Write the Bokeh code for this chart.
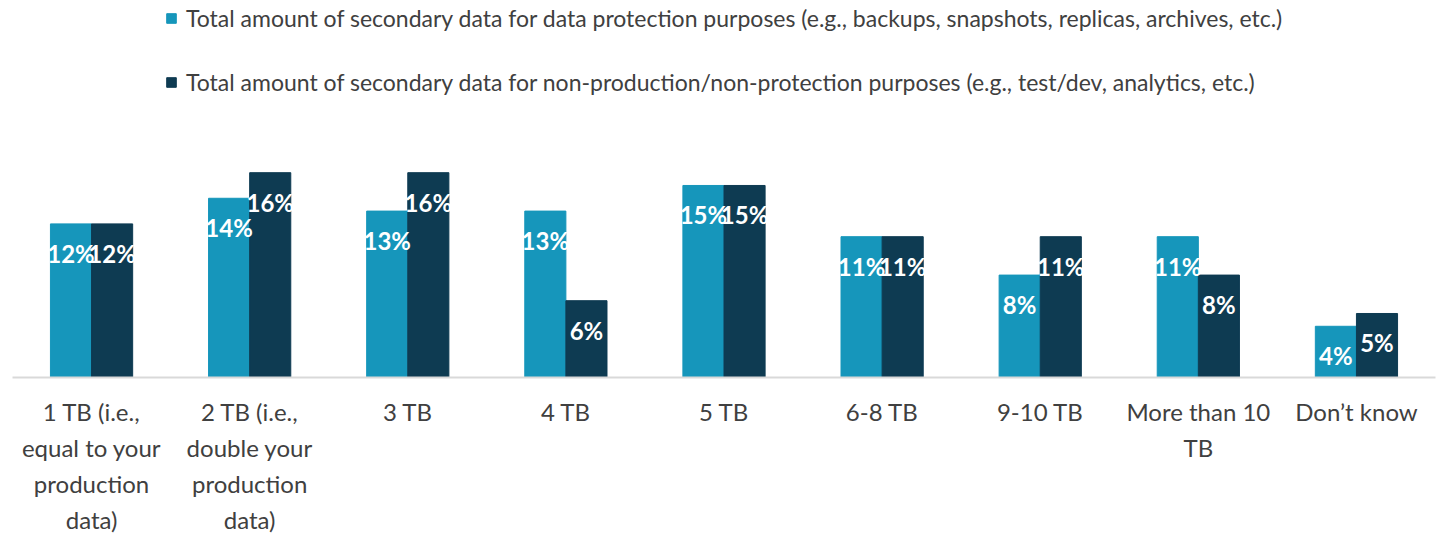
from bokeh.plotting import figure
from bokeh.models import ColumnDataSource, FactorRange, Range1d, Legend, LegendItem
from bokeh.transform import dodge
from bokeh.core.properties import value
from bokeh.embed import file_html
from bokeh.resources import INLINE

categories = [
    "1 TB (i.e.,\nequal to your\nproduction\ndata)",
    "2 TB (i.e.,\ndouble your\nproduction\ndata)",
    "3 TB", "4 TB", "5 TB", "6-8 TB", "9-10 TB",
    "More than 10\nTB", "Don’t know",
]
protection = [12, 14, 13, 13, 15, 11, 8, 11, 4]
non_production = [12, 16, 16, 6, 15, 11, 11, 8, 5]
series_names = [
    "Total amount of secondary data for data protection purposes (e.g., backups, snapshots, replicas, archives, etc.)",
    "Total amount of secondary data for non-production/non-protection purposes (e.g., test/dev, analytics, etc.)",
]
colors = ["#1696bb", "#0e3b52"]

src = ColumnDataSource(dict(
    cat=categories,
    a=protection,
    b=non_production,
    al=[f"{v}%" for v in protection],
    bl=[f"{v}%" for v in non_production],
))

FONT = "Lato"

p = figure(width=1439, height=537, x_range=FactorRange(*categories), y_range=Range1d(0, 29.45),
           output_backend="svg", toolbar_location=None,
           min_border_left=12, min_border_right=4, min_border_top=0, min_border_bottom=158)
p.outline_line_color = None
p.xgrid.visible = False
p.ygrid.visible = False
p.yaxis.visible = False

w = 0.26
r1 = p.vbar(x=dodge("cat", -w / 2, range=p.x_range), top="a", width=w, source=src,
            fill_color=colors[0], line_color=colors[0])
r2 = p.vbar(x=dodge("cat", w / 2, range=p.x_range), top="b", width=w, source=src,
            fill_color=colors[1], line_color=colors[1])

for col, lab, off in (("a", "al", -w / 2), ("b", "bl", w / 2)):
    p.text(x=dodge("cat", off, range=p.x_range), y=col, text=lab, source=src,
           text_align="center", text_baseline="top", y_offset=15,
           text_color="white", text_font=value(FONT), text_font_style="bold",
           text_font_size="24px")

ax = p.xaxis[0]
ax.axis_line_color = "#d9d9d9"
ax.axis_line_width = 2
ax.major_tick_line_color = None
ax.minor_tick_line_color = None
ax.major_tick_out = 0
ax.major_label_text_font = FONT
ax.major_label_text_font_size = "24px"
ax.major_label_text_color = "#404040"
ax.major_label_text_line_height = 1.25
ax.major_label_standoff = 19
ax.major_label_orientation = "horizontal"

legend = Legend(items=[LegendItem(label=series_names[0], renderers=[r1]),
                       LegendItem(label=series_names[1], renderers=[r2])],
                location=(153, 281), orientation="vertical",
                glyph_width=12, glyph_height=12, label_height=28, spacing=36,
                label_standoff=9, padding=0, margin=0,
                label_text_font=FONT, label_text_font_size="23px", label_text_color="#404040",
                border_line_color=None, background_fill_alpha=0)
p.add_layout(legend)

open("out.html", "w").write(file_html(p, INLINE))
